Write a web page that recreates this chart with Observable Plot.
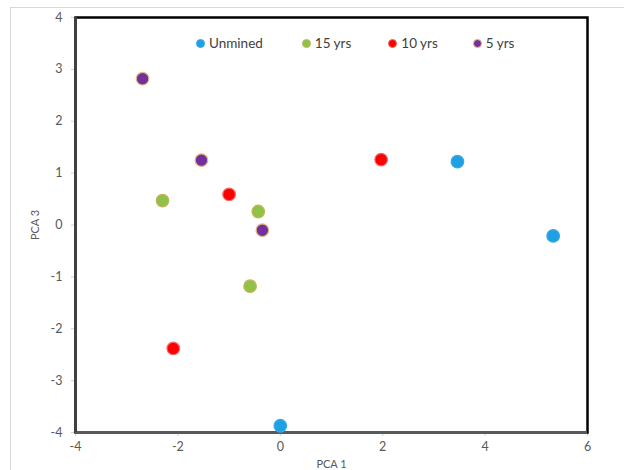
<!DOCTYPE html>
<html>
<head>
<meta charset="utf-8">
<script src="https://cdn.jsdelivr.net/npm/d3@7"></script>
<script src="https://cdn.jsdelivr.net/npm/@observablehq/plot@0.6"></script>
<style>
  body { margin: 0; background: #fff; font-family: Lato, "Open Sans", sans-serif; }
  #wrap { position: relative; width: 624px; height: 470px; }
  #border { position: absolute; left: 10px; top: 7px; width: 620px; height: 470px; border: 1px solid #d9d9d9; box-sizing: border-box; }
  #legend { position: absolute; top: 35px; left: 196px; display: flex; font-size: 13.5px; color: #404040; }
  #legend span.item { display: flex; align-items: center; white-space: nowrap; }
  #legend span.sw { display: inline-block; width: 9px; height: 9px; border-radius: 50%; margin-right: 4px; box-sizing: border-box; }
</style>
</head>
<body>
<div id="wrap">
  <div id="border"></div>
  <div id="chart"></div>
  <div id="legend"></div>
</div>
<script>
const series = ["Unmined", "15 yrs", "10 yrs", "5 yrs"];
const fills = ["#1ea0e3", "#8fc346", "#ff0000", "#7030a0"];
const strokes = ["#3aa9e6", "#c9b25c", "#f26a6a", "#e8b87a"];

const unminedPCA1 = [3.46, 5.33, 0.0];
const unminedPCA3 = [1.22, -0.21, -3.87];
const yrs15PCA1 = [-2.30, -0.43, -0.59];
const yrs15PCA3 = [0.47, 0.26, -1.18];
const yrs10PCA1 = [-1.00, 1.97, -2.09];
const yrs10PCA3 = [0.59, 1.26, -2.38];
const yrs5PCA1 = [-2.69, -1.54, -0.35];
const yrs5PCA3 = [2.82, 1.25, -0.10];

const xTicks = [-4, -2, 0, 2, 4, 6];
const yTicks = [-4, -3, -2, -1, 0, 1, 2, 3, 4];

const pairs = [[unminedPCA1, unminedPCA3], [yrs15PCA1, yrs15PCA3], [yrs10PCA1, yrs10PCA3], [yrs5PCA1, yrs5PCA3]];
const data = [];
pairs.forEach(([xs, ys], i) => xs.forEach((x, j) => data.push({group: series[i], x, y: ys[j]})));

const fmt = d => String(d);

const chart = Plot.plot({
  width: 624,
  height: 470,
  marginLeft: 75,
  marginRight: 37,
  marginTop: 17,
  marginBottom: 38,
  style: {fontFamily: "Lato, 'Open Sans', sans-serif", fontSize: "12.5px", color: "#595959", background: "transparent"},
  x: {domain: [-4, 6]},
  y: {domain: [-4, 4]},
  color: {domain: series, range: fills},
  marks: [
    Plot.axisX({ticks: xTicks, tickFormat: fmt, tickSize: 4, tickPadding: 6, stroke: "#d0d0d0", fill: "#595959", fontSize: 12.5, label: "PCA 1", labelAnchor: "center", labelArrow: "none", labelOffset: 35}),
    Plot.axisY({ticks: yTicks, tickFormat: fmt, tickSize: 4, tickPadding: 9, stroke: "#d0d0d0", fill: "#595959", fontSize: 12.5, label: "PCA 3", labelAnchor: "center", labelArrow: "none", labelOffset: 44}),
    Plot.frame({stroke: "#000", strokeWidth: 2.5}),
    Plot.ruleY([-4], {stroke: "#595959", strokeWidth: 3}),
    Plot.ruleX([-4], {stroke: "#404040", strokeWidth: 3}),
    Plot.dot(data, {x: "x", y: "y", r: 6.3, fill: "group", stroke: d => strokes[series.indexOf(d.group)], strokeWidth: 1.2})
  ]
});
document.getElementById("chart").appendChild(chart);

chart.querySelectorAll("g[aria-label='x-axis label'] text, g[aria-label='y-axis label'] text").forEach(t => {
  t.setAttribute("font-size", "11");
  t.style.fontSize = "11px";
});

const legend = document.getElementById("legend");
const gaps = [39, 37, 35, 0];
series.forEach((s, i) => {
  const item = document.createElement("span");
  item.className = "item";
  item.style.marginRight = gaps[i] + "px";
  const sw = document.createElement("span");
  sw.className = "sw";
  sw.style.background = fills[i];
  sw.style.border = "1px solid " + strokes[i];
  item.appendChild(sw);
  item.appendChild(document.createTextNode(s));
  legend.appendChild(item);
});
</script>
</body>
</html>
